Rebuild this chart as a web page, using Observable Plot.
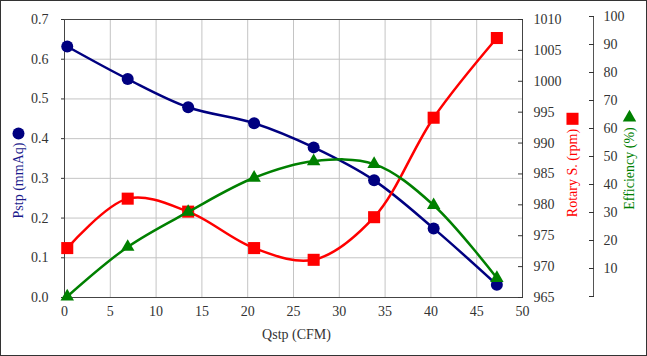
<!DOCTYPE html>
<html><head><meta charset="utf-8">
<script src="https://cdn.jsdelivr.net/npm/d3@7"></script>
<script src="https://cdn.jsdelivr.net/npm/@observablehq/plot@0.6"></script>
<style>
html,body{margin:0;padding:0;background:#fff;}
#chart{position:relative;width:647px;height:356px;overflow:hidden;background:#fff;}
#chart svg{position:absolute;left:0;top:0;}
#border{position:absolute;left:0;top:0;width:647px;height:356px;box-sizing:border-box;border:1px solid #333;pointer-events:none;z-index:10;}
</style></head><body>
<div id="chart"><div id="border"></div></div>
<script>
// Data
const qstp = [0.3, 6.9, 13.5, 20.7, 27.2, 33.8, 40.3, 47.2];          // CFM
const pstp = [0.632, 0.550, 0.479, 0.439, 0.378, 0.295, 0.174, 0.032]; // mmAq
const rpm  = [973.0, 981.0, 978.9, 973.0, 971.1, 978.0, 994.1, 1007.0]; // rpm
const eff  = [0, 17.7, 30.2, 42.4, 48.3, 47.3, 32.6, 6.6];              // %

const xTicks = [0, 5, 10, 15, 20, 25, 30, 35, 40, 45, 50];
const xGrid = [5, 10, 15, 20, 25, 30, 35, 40, 45];
const pTicks = [0, 0.1, 0.2, 0.3, 0.4, 0.5, 0.6, 0.7];
const pGrid = [0.1, 0.2, 0.3, 0.4, 0.5, 0.6];
const rTicks = [965, 970, 975, 980, 985, 990, 995, 1000, 1005, 1010];
const eTicks = [0, 10, 20, 30, 40, 50, 60, 70, 80, 90, 100];
const eLabels = [10, 20, 30, 40, 50, 60, 70, 80, 90, 100];

const xTitle = "Qstp (CFM)";
const pTitle = "Pstp (mmAq)";
const rTitle = "Rotary S. (rpm)";
const eTitle = "Efficiency (%)";

const rows = qstp.map((q, i) => ({q, p: pstp[i], r: rpm[i], e: eff[i]}));

const W = 647, H = 356;
const base = {width: W, height: H, marginLeft: 64, marginRight: 125, marginTop: 19, marginBottom: 59};
const font = {fontFamily: "'Liberation Serif','Times New Roman',serif", fontSize: "14px", color: "#333", overflow: "visible"};
const NAVY = "#000080", RED = "#ff0000", GREEN = "#008000";

const p1 = Plot.plot({
  ...base,
  style: {...font, background: "white"},
  x: {domain: [0, 50]},
  y: {domain: [0, 0.7]},
  marks: [
    Plot.gridX(xGrid, {stroke: "#c4c4c4", strokeOpacity: 1}),
    Plot.gridY(pGrid, {stroke: "#c4c4c4", strokeOpacity: 1}),
    Plot.frame({stroke: "#444"}),
    Plot.axisX(xTicks, {tickSize: 0, tickPadding: 9, label: null, tickFormat: d => String(d)}),
    Plot.axisY(pTicks, {tickSize: 3, tickPadding: 13, label: null, tickFormat: d => d.toFixed(1)}),
    Plot.line(rows, {x: "q", y: "p", curve: "catmull-rom", stroke: NAVY, strokeWidth: 2.5}),
    Plot.dot(rows, {x: "q", y: "p", r: 6, fill: NAVY, stroke: "none"}),
    Plot.text([pTitle], {frameAnchor: "left", textAnchor: "middle", rotate: -90, dx: -46, dy: 22, fill: "#1a1a8c"}),
    Plot.dot([pTitle], {frameAnchor: "left", dx: -46, dy: -25, r: 6, fill: NAVY, stroke: "none"}),
    Plot.text([xTitle], {frameAnchor: "bottom", textAnchor: "middle", dy: 41, dx: 3, fill: "#333"})
  ]
});

const p2 = Plot.plot({
  ...base,
  style: {...font, background: "transparent"},
  x: {domain: [0, 50], axis: null},
  y: {domain: [965, 1010]},
  marks: [
    Plot.axisY(rTicks, {anchor: "right", tickSize: 5, dx: -5, label: null, tickFormat: () => ""}),
    Plot.axisY(rTicks, {anchor: "right", tickSize: 0, tickPadding: 11, label: null, tickFormat: d => String(d)}),
    Plot.line(rows, {x: "q", y: "r", curve: "catmull-rom", stroke: RED, strokeWidth: 2.5}),
    Plot.dot(rows, {x: "q", y: "r", r: 6.8, symbol: "square", fill: RED, stroke: "none"}),
    Plot.text([rTitle], {frameAnchor: "right", textAnchor: "middle", rotate: -90, dx: 50, dy: 14.5, fill: RED}),
    Plot.dot([rTitle], {frameAnchor: "right", dx: 50, dy: -39.7, r: 6.8, symbol: "square", fill: RED, stroke: "none"})
  ]
});

const p3 = Plot.plot({
  ...base,
  marginTop: 16, marginBottom: 60,
  style: {...font, background: "transparent"},
  x: {domain: [0, 50], axis: null},
  y: {domain: [0, 100]},
  marks: [
    Plot.frame({anchor: "right", dx: 71, stroke: "#555"}),
    Plot.axisY(eTicks, {anchor: "right", tickSize: 5, dx: 66, label: null, tickFormat: () => ""}),
    Plot.axisY(eLabels, {anchor: "right", tickSize: 0, tickPadding: 10, dx: 71, label: null, tickFormat: d => String(d)}),
    Plot.line(rows, {x: "q", y: "e", curve: "catmull-rom", stroke: GREEN, strokeWidth: 2.5}),
    Plot.dot(rows, {x: "q", y: "e", r: 5, symbol: "triangle", fill: GREEN, stroke: "none"}),
    Plot.text([eTitle], {frameAnchor: "right", textAnchor: "middle", rotate: -90, dx: 107, dy: 12, fill: GREEN}),
    Plot.dot([eTitle], {frameAnchor: "right", dx: 107, dy: -39, r: 5, symbol: "triangle", fill: GREEN, stroke: "none"})
  ]
});

const chart = document.getElementById("chart");
chart.insertBefore(p3, chart.firstChild);
chart.insertBefore(p2, chart.firstChild);
chart.insertBefore(p1, chart.firstChild);
</script>
</body></html>
